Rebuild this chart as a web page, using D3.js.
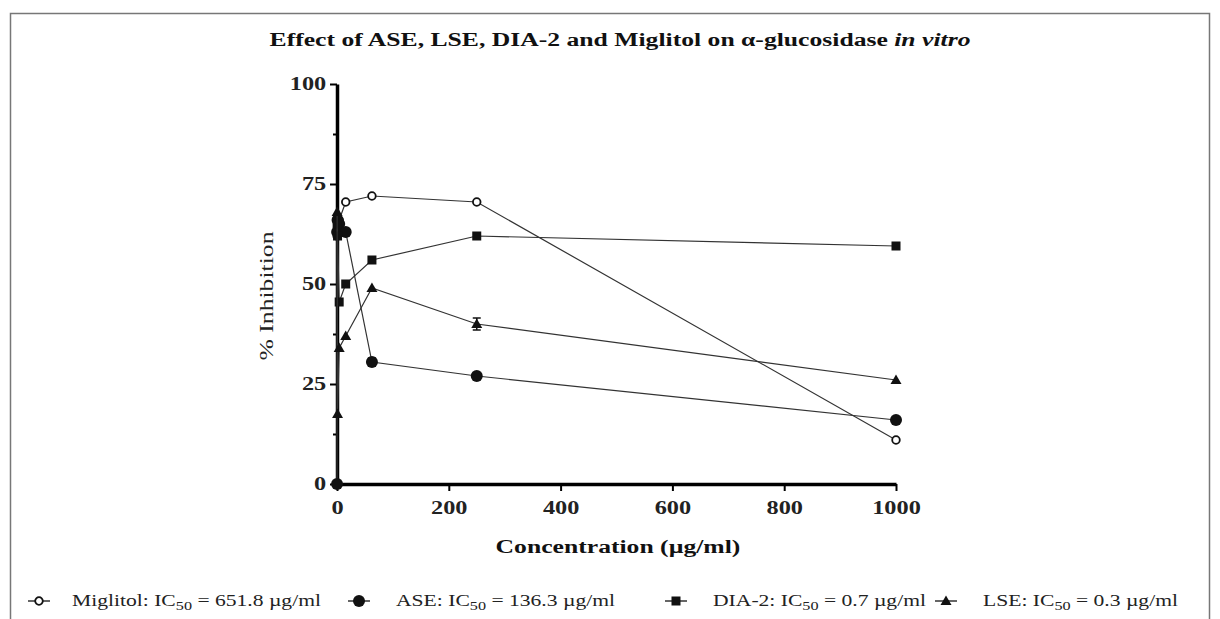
<!DOCTYPE html>
<html>
<head>
<meta charset="utf-8">
<script src="https://cdn.jsdelivr.net/npm/d3@7"></script>
<style>
  body { margin: 0; background: #fff; }
  svg { display: block; font-family: "Liberation Serif", "DejaVu Serif", serif; }
</style>
</head>
<body>
<div id="chart"></div>
<script>
// concentrations (µg/ml), serial dilution
const concentrations = [0.06, 0.24, 0.98, 3.9, 15.6, 62.5, 250, 1000];

// % inhibition for each series (null = no point)
const miglitolValues = [null, 62, 65, 66, 70.5, 72, 70.5, 11];
const aseValues = [0, 63, 66, 65, 63, 30.5, 27, 16];
const dia2Values = [null, 65, 62, 45.5, 50, 56, 62, 59.5];
const lseValues = [null, 68, 17.5, 34, 37, 49, 40, 26];

// error bars (±), same order
const lseErrors = [0, 0, 0, 0, 0, 0, 1.5, 0];
const aseErrors = [0, 0, 0, 0, 0, 1, 0, 0];

const seriesNames = ["Miglitol", "ASE", "DIA-2", "LSE"];
const legendPrefix = ["Miglitol: IC", "ASE: IC", "DIA-2: IC", "LSE: IC"];
const legendSuffix = [" = 651.8 µg/ml", " = 136.3 µg/ml", " = 0.7 µg/ml", " = 0.3 µg/ml"];

const xTicks = [0, 200, 400, 600, 800, 1000];
const yTicks = [0, 25, 50, 75, 100];
const yMinorTicks = [12.5, 37.5, 62.5, 87.5];

const width = 1220;
const height = 619;
// the original figure is stretched sideways, so text is widened too
const stretch = 1.35;

const svg = d3.select("#chart").append("svg")
    .attr("width", width)
    .attr("height", height);

// frame
svg.append("rect")
    .attr("x", 10.5).attr("y", 13.5)
    .attr("width", 1199).attr("height", 620)
    .attr("fill", "none")
    .attr("stroke", "#777")
    .attr("stroke-width", 1.5);

const x = d3.scaleLinear().domain([0, 1000]).range([337, 896]);
const y = d3.scaleLinear().domain([0, 100]).range([484, 84]);

// title
const title = svg.append("text")
    .attr("transform", `translate(620,46) scale(${stretch},1)`)
    .attr("text-anchor", "middle")
    .attr("font-weight", "bold")
    .attr("font-size", 19)
    .attr("fill", "#111");
title.append("tspan").text("Effect of ASE, LSE, DIA-2 and Miglitol on α-glucosidase ");
title.append("tspan").attr("font-style", "italic").text("in vitro");

// axes
const xAxis = svg.append("g")
    .attr("transform", `translate(0,${y(0)})`)
    .call(d3.axisBottom(x).tickValues(xTicks).tickSize(7).tickSizeOuter(0)
        .tickPadding(10).tickFormat(d3.format("d")));
const yAxis = svg.append("g")
    .attr("transform", `translate(${x(0)},0)`)
    .call(d3.axisLeft(y).tickValues(yTicks).tickSize(7).tickSizeOuter(0).tickPadding(1));
svg.append("g")
    .attr("transform", `translate(${x(0)},0)`)
    .call(d3.axisLeft(y).tickValues(yMinorTicks).tickSize(4).tickFormat(""))
    .call(g => g.select(".domain").remove())
    .selectAll("line").attr("stroke-width", 2);

[xAxis, yAxis].forEach(a => {
    a.select(".domain").attr("stroke-width", 3.5);
    a.selectAll(".tick line").attr("stroke-width", 2);
    a.selectAll("text")
        .attr("font-family", "Liberation Serif, serif")
        .attr("font-weight", "bold")
        .attr("font-size", 18)
        .attr("fill", "#222")
        .attr("transform", `scale(${stretch},1)`);
});

// axis titles
svg.append("text")
    .attr("transform", `translate(618,553) scale(${stretch},1)`)
    .attr("text-anchor", "middle")
    .attr("font-weight", "bold")
    .attr("font-size", 19)
    .attr("fill", "#111")
    .text("Concentration (µg/ml)");
svg.append("text")
    .attr("transform", `translate(273,${y(50) + 12}) rotate(-90) scale(${stretch},1)`)
    .attr("text-anchor", "middle")
    .attr("font-size", 19)
    .attr("fill", "#222")
    .text("% Inhibition");

// series
const series = [
    { name: seriesNames[0], values: miglitolValues, errors: null, symbol: "circleOpen" },
    { name: seriesNames[1], values: aseValues, errors: aseErrors, symbol: "circle" },
    { name: seriesNames[2], values: dia2Values, errors: null, symbol: "square" },
    { name: seriesNames[3], values: lseValues, errors: lseErrors, symbol: "triangle" }
];

const line = d3.line()
    .defined(d => d.v !== null)
    .x(d => x(d.c))
    .y(d => y(d.v));

function drawMarker(g, type, cx, cy) {
    if (type === "circleOpen") {
        g.append("circle").attr("cx", cx).attr("cy", cy).attr("r", 3.8)
            .attr("fill", "#fff").attr("stroke", "#111").attr("stroke-width", 1.8);
    } else if (type === "circle") {
        g.append("circle").attr("cx", cx).attr("cy", cy).attr("r", 6)
            .attr("fill", "#111");
    } else if (type === "square") {
        g.append("rect").attr("x", cx - 4.5).attr("y", cy - 4.5)
            .attr("width", 9).attr("height", 9).attr("fill", "#111");
    } else if (type === "triangle") {
        g.append("path")
            .attr("d", `M${cx},${cy - 5.5}L${cx + 5.5},${cy + 4}L${cx - 5.5},${cy + 4}Z`)
            .attr("fill", "#111");
    }
}

series.forEach(s => {
    const pts = concentrations.map((c, i) => ({ c: c, v: s.values[i], e: s.errors ? s.errors[i] : 0 }));
    const g = svg.append("g");
    g.append("path")
        .datum(pts)
        .attr("d", line)
        .attr("fill", "none")
        .attr("stroke", "#333")
        .attr("stroke-width", 1.2);
    pts.filter(d => d.v !== null && d.e > 0).forEach(d => {
        const px = x(d.c);
        g.append("line").attr("x1", px).attr("x2", px)
            .attr("y1", y(d.v - d.e)).attr("y2", y(d.v + d.e))
            .attr("stroke", "#111").attr("stroke-width", 1.5);
        [d.v - d.e, d.v + d.e].forEach(v => {
            g.append("line").attr("x1", px - 4).attr("x2", px + 4)
                .attr("y1", y(v)).attr("y2", y(v))
                .attr("stroke", "#111").attr("stroke-width", 1.5);
        });
    });
    pts.filter(d => d.v !== null).forEach(d => drawMarker(g, s.symbol, x(d.c), y(d.v)));
});

// legend
const legendX = [38, 358, 675, 945];
const legendY = 601;
series.forEach((s, i) => {
    const g = svg.append("g").attr("transform", `translate(${legendX[i]},${legendY})`);
    g.append("line").attr("x1", -10).attr("x2", 12).attr("y1", 0).attr("y2", 0)
        .attr("stroke", "#333").attr("stroke-width", 1.5);
    drawMarker(g, s.symbol, 1, 0);
    const t = g.append("text")
        .attr("transform", `translate(${i === 0 ? 34 : 38},5) scale(${stretch},1)`)
        .attr("font-size", 16)
        .attr("fill", "#222");
    t.append("tspan").text(legendPrefix[i]);
    t.append("tspan").attr("dy", 4).attr("font-size", 12).text("50");
    t.append("tspan").attr("dy", -4).text(legendSuffix[i]);
});
</script>
</body>
</html>
